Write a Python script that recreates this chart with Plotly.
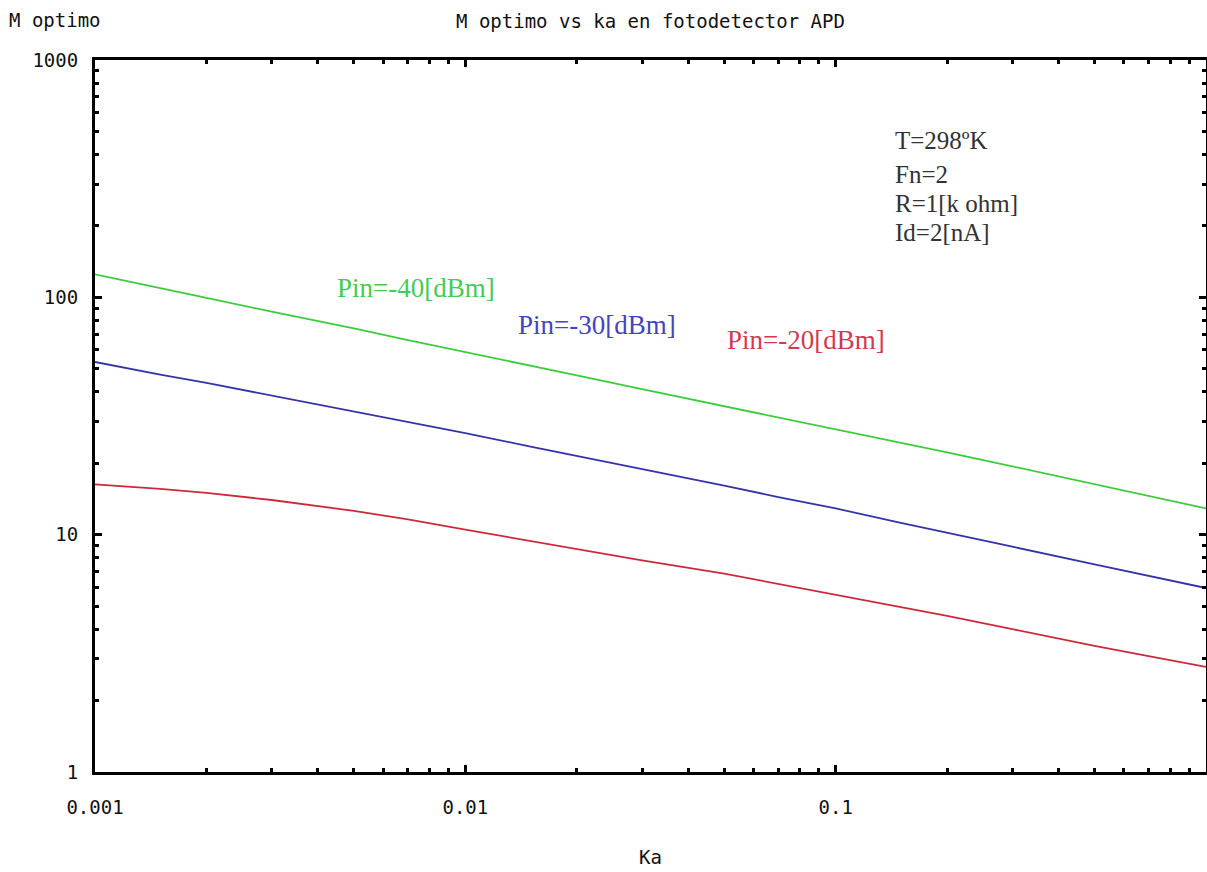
import math
import plotly.graph_objects as go

ka = [0.001, 0.0015, 0.002, 0.003, 0.005, 0.007, 0.01, 0.015, 0.02, 0.03,
      0.05, 0.07, 0.1, 0.15, 0.2, 0.3, 0.5, 0.7, 1.0]
m_pin40 = [125.0, 109.0, 99.5, 87.0, 74.0, 66.0, 58.9, 51.5, 46.9, 41.0,
           34.8, 31.1, 27.9, 24.4, 22.2, 19.4, 16.3, 14.5, 12.9]
m_pin30 = [53.4, 47.2, 43.6, 38.6, 33.1, 29.8, 26.8, 23.5, 21.5, 18.9,
           16.1, 14.4, 12.9, 11.2, 10.2, 8.9, 7.5, 6.7, 5.96]
m_pin20 = [16.3, 15.6, 15.0, 14.0, 12.6, 11.6, 10.5, 9.4, 8.7, 7.8,
           6.85, 6.2, 5.6, 4.95, 4.55, 4.0, 3.4, 3.08, 2.77]

series_names = ["Pin=-40[dBm]", "Pin=-30[dBm]", "Pin=-20[dBm]"]
series_colors = ["#3ccc3c", "#3434a8", "#cc2a3c"]
label_colors = ["#44cc55", "#4444c0", "#d23a50"]
label_x = [0.00736, 0.0227, 0.0832]
label_y = [109.6, 76.5, 66.1]

params = ["T=298ºK", "Fn=2", "R=1[k ohm]", "Id=2[nA]"]
params_x = 0.143
params_y = [456, 328, 248, 187]

mono = "DejaVu Sans Mono"
serif = "Liberation Serif"

fig = go.Figure()
for ys, name, col in zip([m_pin40, m_pin30, m_pin20], series_names, series_colors):
    fig.add_trace(go.Scatter(x=ka, y=ys, mode="lines", name=name,
                             line=dict(color=col, width=1.8), showlegend=False))

for name, col, lx, ly in zip(series_names, label_colors, label_x, label_y):
    fig.add_annotation(x=math.log10(lx), y=math.log10(ly),
                       text=name, showarrow=False, xanchor="center", yanchor="middle",
                       font=dict(family=serif, size=27, color=col))

for p, py in zip(params, params_y):
    fig.add_annotation(x=math.log10(params_x), y=math.log10(py),
                       text=p, showarrow=False, xanchor="left", yanchor="middle",
                       font=dict(family=serif, size=25, color="#333333"))

fig.add_annotation(xref="paper", yref="paper", x=-0.079, y=1.0, yshift=40,
                   text="M optimo", showarrow=False, xanchor="left", yanchor="middle",
                   font=dict(family=mono, size=19, color="#111111"))
fig.add_annotation(xref="paper", yref="paper", x=0.5, y=1.0, yshift=39,
                   text="M optimo vs ka en fotodetector APD", showarrow=False,
                   xanchor="center", yanchor="middle",
                   font=dict(family=mono, size=19, color="#111111"))
fig.add_annotation(xref="paper", yref="paper", x=0.5, y=0.0, yshift=-85,
                   text="Ka", showarrow=False, xanchor="center", yanchor="middle",
                   font=dict(family=mono, size=19, color="#111111"))

axis_common = dict(
    type="log", showgrid=False, zeroline=False,
    showline=True, linecolor="black", linewidth=3, mirror="allticks",
    ticks="inside", ticklen=7, tickwidth=3, tickcolor="black",
    tickfont=dict(family=mono, size=19, color="#111111"),
    minor=dict(ticks="inside", ticklen=4, tickwidth=3, tickcolor="black",
               showgrid=False, dtick="D1"),
    automargin=False,
)

fig.update_xaxes(**axis_common, range=[-3, 0], tickvals=[0.001, 0.01, 0.1, 1],
                 ticktext=["0.001", "0.01", "0.1", "1"], ticklabelstandoff=16)
fig.update_yaxes(**axis_common, range=[0, 3], tickvals=[1, 10, 100, 1000],
                 ticktext=["1", "10", "100", "1000"], ticklabelstandoff=10)

fig.update_layout(
    width=1207, height=872,
    margin=dict(l=95, r=1, t=60, b=100),
    paper_bgcolor="white", plot_bgcolor="white",
    showlegend=False,
)

fig.write_html("out.html")
